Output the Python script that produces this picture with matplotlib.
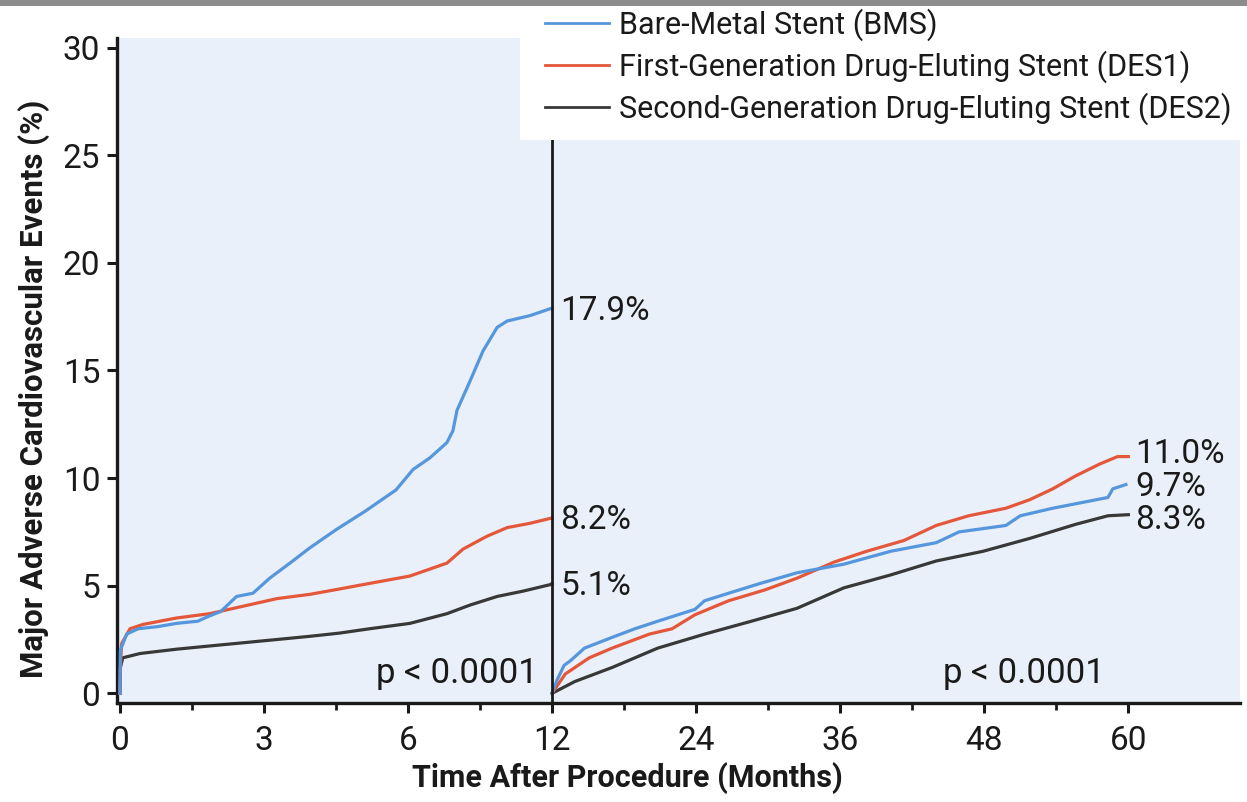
import numpy as np
import matplotlib
matplotlib.use("Agg")
import matplotlib.pyplot as plt
from matplotlib.patches import Rectangle

plt.rcParams['font.family'] = ['Roboto', 'DejaVu Sans']

# ---- data (months, cumulative MACE %) ----
series_names = ["Bare-Metal Stent (BMS)",
                "First-Generation Drug-Eluting Stent (DES1)",
                "Second-Generation Drug-Eluting Stent (DES2)"]

bms_left_t = [0, 0.01, 0.14, 0.38, 0.79, 1.18, 1.62, 1.87, 2.1, 2.43, 2.77, 3.12, 3.6, 3.95,
              4.5, 5.1, 5.75, 6.21, 6.92, 7.62, 7.87, 8.04, 8.58, 9.12, 9.71, 10.13, 11.08, 12]
bms_left_v = [0, 2.0, 2.75, 3.0, 3.1, 3.25, 3.35, 3.6, 3.8, 4.5, 4.65, 5.35, 6.15, 6.75,
              7.6, 8.45, 9.45, 10.4, 10.95, 11.65, 12.2, 13.15, 14.5, 15.9, 17.0, 17.3, 17.55, 17.9]

des1_left_t = [0, 0.01, 0.035, 0.21, 0.48, 1.18, 1.87, 2.57, 3.27, 3.96, 4.58, 5.06, 6.08,
               7.62, 8.29, 9.29, 10.13, 11.08, 12]
des1_left_v = [0, 1.15, 2.3, 3.0, 3.2, 3.5, 3.7, 4.05, 4.4, 4.6, 4.85, 5.05, 5.45,
               6.05, 6.7, 7.3, 7.7, 7.9, 8.15]

des2_left_t = [0, 0.01, 0.06, 0.42, 1.18, 1.87, 2.57, 3.27, 3.96, 4.58, 5.2, 6.08, 7.62,
               8.58, 9.71, 10.8, 11.92, 12]
des2_left_v = [0, 1.2, 1.65, 1.85, 2.05, 2.2, 2.35, 2.5, 2.65, 2.8, 3.0, 3.25, 3.7,
               4.1, 4.5, 4.75, 5.05, 5.1]

bms_right_t = [12, 12.4, 13.0, 13.5, 14.7, 17, 18.9, 20.8, 23.9, 24.7, 26.7, 29.3, 32.4,
               36.3, 40.2, 44, 45.9, 49.8, 51, 53.7, 58.3, 58.7, 59.8]
bms_right_v = [0, 0.6, 1.3, 1.5, 2.1, 2.6, 3.0, 3.35, 3.9, 4.3, 4.65, 5.1, 5.6,
               6.0, 6.6, 7.0, 7.5, 7.8, 8.25, 8.6, 9.1, 9.5, 9.7]

des1_right_t = [12, 13.1, 15.1, 17, 20.1, 22, 23.9, 26.7, 29.7, 32.4, 35.5, 38.2, 41.3,
                44, 46.7, 49.8, 51.8, 53.7, 55.6, 57.6, 59.1, 60]
des1_right_v = [0, 0.9, 1.65, 2.1, 2.75, 3.0, 3.65, 4.3, 4.8, 5.35, 6.1, 6.6, 7.1,
                7.8, 8.25, 8.6, 9.0, 9.5, 10.1, 10.65, 11.0, 11.0]

des2_right_t = [12, 13.9, 17, 20.8, 24.7, 28.6, 32.4, 36.3, 40.2, 44, 47.9, 51.8, 55.6, 58.3, 60]
des2_right_v = [0, 0.55, 1.2, 2.1, 2.75, 3.35, 3.95, 4.9, 5.5, 6.15, 6.6, 7.2, 7.85, 8.25, 8.3]

x_ticks = [0, 3, 6, 12, 24, 36, 48, 60]
x_minor = [1.5, 4.5, 9, 18, 30, 42, 54]
y_ticks = [0, 5, 10, 15, 20, 25, 30]

end_labels_left = ["17.9%", "8.2%", "5.1%"]
end_values_left = [17.9, 8.2, 5.1]
end_labels_right = ["11.0%", "9.7%", "8.3%"]
end_values_right = [11.0, 9.7, 8.3]
p_text = "p < 0.0001"

colors = ["#5596dc", "#e4573a", "#383838"]
ink = "#1a1a1a"

# ---- piecewise linear time axis (0-6, 6-12, 12-60 compressed) ----
def fwd(t):
    t = np.asarray(t, dtype=float)
    return np.where(t < 6, t / 3.0, np.where(t < 12, 2 + (t - 6) / 6.0, 3 + (t - 12) / 12.0))

def inv(u):
    u = np.asarray(u, dtype=float)
    return np.where(u < 2, 3 * u, np.where(u < 3, 6 + 6 * (u - 2), 12 + 12 * (u - 3)))

W, H = 1247, 802
fig = plt.figure(figsize=(W / 100, H / 100), dpi=100)
ax = fig.add_axes([117 / W, 1 - 703 / H, (1240 - 117) / W, (703 - 38) / H])
ax.set_xscale('function', functions=(fwd, inv))
ax.set_facecolor("#e9f0f9")

lw = 2.3
left = [(bms_left_t, bms_left_v), (des1_left_t, des1_left_v), (des2_left_t, des2_left_v)]
right = [(bms_right_t, bms_right_v), (des1_right_t, des1_right_v), (des2_right_t, des2_right_v)]
handles = []
for i, ((lt, lv), (rt, rv)) in enumerate(zip(left, right)):
    h, = ax.plot(lt, lv, color=colors[i], lw=lw, zorder=3 + (2 - i) * 0.1)
    ax.plot(rt, rv, color=colors[i], lw=lw, zorder=3 + (2 - i) * 0.1)
    handles.append(h)

ax.axvline(12, color=ink, lw=2.0, zorder=4)

ax.set_xlim(-0.06, 69.3)
ax.set_ylim(-0.45, 30.45)
ax.set_xticks(x_ticks)
ax.set_xticklabels([str(x) for x in x_ticks])
ax.set_xticks(x_minor, minor=True)
ax.set_yticks(y_ticks)

for s in ["top", "right"]:
    ax.spines[s].set_visible(False)
for s in ["left", "bottom"]:
    ax.spines[s].set_linewidth(2.4)
    ax.spines[s].set_color(ink)

ax.tick_params(axis='both', which='major', length=7, width=2.2, color=ink,
               labelsize=24, labelcolor=ink)
ax.tick_params(axis='x', which='major', pad=9)
ax.tick_params(axis='y', which='major', pad=5)
ax.tick_params(axis='x', which='minor', length=5, width=2.0, color=ink)

ax.set_xlabel("Time After Procedure (Months)", fontsize=22, fontweight='bold', color=ink)
ax.set_ylabel("Major Adverse Cardiovascular Events (%)", fontsize=22.5, fontweight='bold', color=ink)
ax.xaxis.set_label_coords((627 - 117) / 1123, (703 - 762) / 665)
ax.yaxis.set_label_coords((50 - 117) / 1123, (703 - 389) / 665)

for lab, v in zip(end_labels_left, end_values_left):
    ax.annotate(lab, xy=(12, v), xytext=(6, -2), textcoords='offset points',
                fontsize=24, va='center', ha='left', color=ink)
right_offsets = [2, -2, -4]
for lab, v, off in zip(end_labels_right, end_values_right, right_offsets):
    ax.annotate(lab, xy=(60, v), xytext=(5, off), textcoords='offset points',
                fontsize=24, va='center', ha='left', color=ink)

ax.text(11.42, 0.9, p_text, fontsize=25, ha='right', va='center', color=ink)
ax.text(51.3, 0.9, p_text, fontsize=25, ha='center', va='center', color=ink)

# white legend panel
fig.patches.append(Rectangle((520 / W, 1 - 140 / H), (W - 520) / W, 130 / H,
                             transform=fig.transFigure, facecolor='white',
                             edgecolor='none', zorder=4))
leg = fig.legend(handles, series_names, loc='upper left',
                 bbox_to_anchor=(545 / W, 1 - 8 / H), bbox_transform=fig.transFigure,
                 borderaxespad=0, frameon=False, fontsize=22,
                 handlelength=2.1, handletextpad=0.33, labelspacing=0.32,
                 borderpad=0)
leg.set_zorder(6)
for t in leg.get_texts():
    t.set_color(ink)
for l in leg.get_lines():
    l.set_linewidth(2.0)

# thin gray strip at the top of the figure
fig.patches.append(Rectangle((0, 1 - 6 / H), 1, 6 / H, transform=fig.transFigure,
                             facecolor="#8c8c8c", edgecolor='none', zorder=10))

fig.savefig("out.png", dpi=100)
